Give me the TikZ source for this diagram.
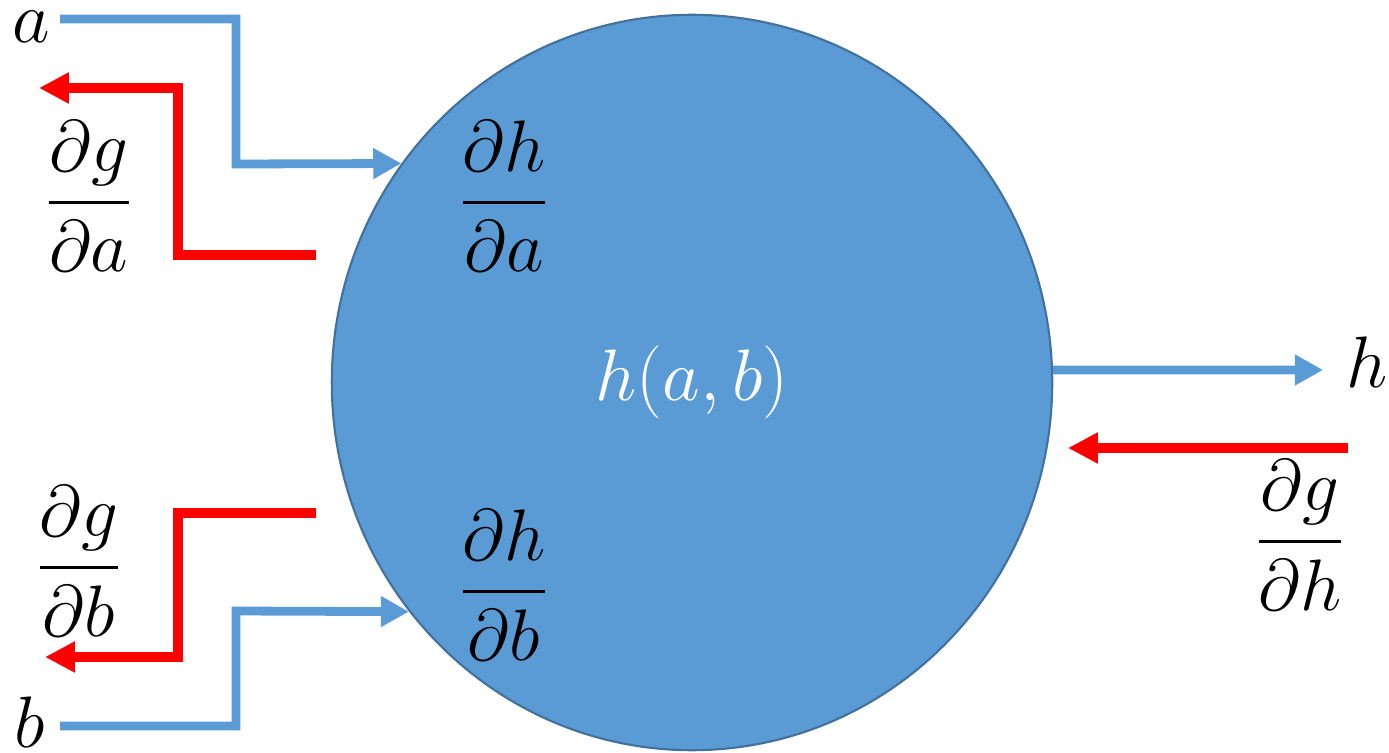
\documentclass[tikz,border=0pt]{standalone}
\usepackage{amsmath,amssymb}
\usetikzlibrary{arrows.meta,shapes.geometric}
\definecolor{NodeBlue}{HTML}{5B9BD5}
\definecolor{NodeEdge}{HTML}{41719C}
\definecolor{FlowRed}{HTML}{FF0000}

\begin{document}
\begin{tikzpicture}[x=0.01cm, y=-0.01cm,
    fwd/.style={draw=NodeBlue, line width=2.5pt, -{Triangle[length=8pt, width=8.3pt]}},
    bwd/.style={draw=FlowRed, line width=2.85pt, -{Triangle[length=8.5pt, width=8.3pt]}},
    lbl/.style={font=\huge, inner sep=0pt, anchor=base},
]
    \useasboundingbox (0,0) rectangle (1389,752);

    \node[ellipse, draw=NodeEdge, line width=0.6pt, fill=NodeBlue, minimum width=7.2cm, minimum height=7.35cm, inner sep=0pt, text=white, font=\huge] (func) at (692,382.5) {$h(a,b)$};

    % labels
    \node[lbl] (a) at (31,43) {$a$};
    \node[lbl] (b) at (30,747) {$b$};
    \node[lbl] (h) at (1367,387) {$h$};
    \node[lbl] (dga) at (89,221) {$\dfrac{\partial g}{\partial a}$};
    \node[lbl] (dgb) at (79,586) {$\dfrac{\partial g}{\partial b}$};
    \node[lbl] (dgh) at (1300,560) {$\dfrac{\partial g}{\partial h}$};
    \node[lbl] (dha) at (504,221) {$\dfrac{\partial h}{\partial a}$};
    \node[lbl] (dhb) at (504,610) {$\dfrac{\partial h}{\partial b}$};

    % free ends
    \coordinate (aIn) at (60,19);
    \coordinate (bIn) at (60,726);
    \coordinate (hOut) at (1323,370);
    \coordinate (gaIn) at (316,255);
    \coordinate (gaOut) at (39,88);
    \coordinate (gbIn) at (316,513);
    \coordinate (gbOut) at (45,657);
    \coordinate (ghIn) at (1348,448);
    \coordinate (ghOut) at (1068,448);

    % forward pass
    \draw[fwd] (aIn) -| (236,164) -- (func.143);
    \draw[fwd] (bIn) -| (236,611) -- (func.219);
    \draw[fwd] (func.2) -- (hOut);

    % backward pass
    \draw[bwd] (gaIn) -| (178,88) -- (gaOut);
    \draw[bwd] (gbIn) -| (178,657) -- (gbOut);
    \draw[bwd] (ghIn) -- (ghOut);
\end{tikzpicture}
\end{document}
